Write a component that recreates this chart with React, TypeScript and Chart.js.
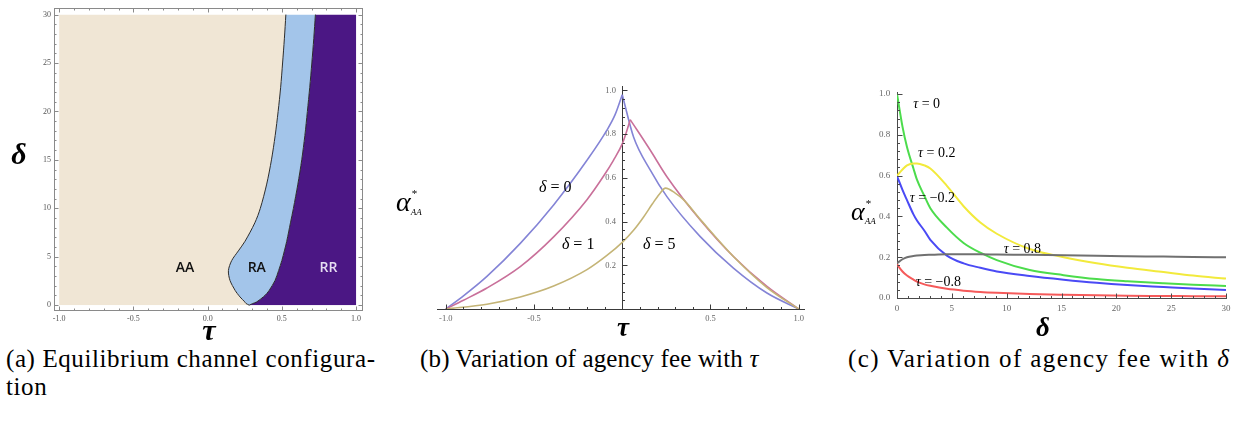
import React, { useEffect, useRef } from 'react';
import { Chart, registerables } from 'chart.js';

Chart.register(...registerables);

const SERIF = '"Liberation Serif", "DejaVu Serif", "Noto Serif", serif';
Chart.defaults.font.family = SERIF;

// ---------------- (a) Equilibrium channel configuration ----------------
const regionDelta = [0, 0.17, 0.34, 0.85, 1.2, 1.53, 2.54, 3.56, 4.6, 5.6, 6.6, 8.5, 10, 12.5, 15, 17.5, 20, 22.5, 25, 27.5, 30];
const aaRaBoundaryTau = [0.28, 0.259, 0.25, 0.218, 0.2, 0.185, 0.151, 0.14, 0.162, 0.207, 0.252, 0.318, 0.355, 0.398, 0.43, 0.455, 0.475, 0.492, 0.505, 0.517, 0.527];
const raRrBoundaryTau = [0.28, 0.305, 0.331, 0.375, 0.398, 0.415, 0.454, 0.478, 0.5, 0.517, 0.533, 0.558, 0.578, 0.608, 0.634, 0.655, 0.672, 0.688, 0.702, 0.715, 0.726];
const regionNames = ['AA', 'RA', 'RR'];
const regionLabelTau = [-0.152, 0.331, 0.814];
const regionLabelDelta = [3.4, 3.4, 3.4];
const tauTicksA = [-1, -0.5, 0, 0.5, 1];
const deltaTicksA = [0, 5, 10, 15, 20, 25, 30];

// ---------------- (b) Variation of agency fee with tau ----------------
const tauD0Left = [-1, -0.9, -0.767, -0.578, -0.389, -0.2, -0.087, -0.04, 0];
const alphaD0Left = [0, 0.06, 0.149, 0.3, 0.476, 0.68, 0.818, 0.89, 0.98];
const tauD0Right = [0, 0.064, 0.159, 0.253, 0.442, 0.63, 0.82, 1];
const alphaD0Right = [0.98, 0.787, 0.635, 0.514, 0.331, 0.187, 0.073, 0];
const tauD1Left = [-1, -0.9, -0.767, -0.578, -0.389, -0.2, -0.1, -0.05, 0, 0.02, 0.045];
const alphaD1Left = [0, 0.04, 0.096, 0.194, 0.33, 0.5, 0.615, 0.68, 0.755, 0.8, 0.866];
const tauD1Right = [0.045, 0.159, 0.253, 0.442, 0.63, 0.82, 1];
const alphaD1Right = [0.866, 0.726, 0.605, 0.407, 0.24, 0.103, 0];
const tauD5 = [-1, -0.767, -0.578, -0.389, -0.2, -0.087, 0, 0.064, 0.12, 0.17, 0.21, 0.245, 0.3, 0.347, 0.442, 0.63, 0.82, 1];
const alphaD5 = [0, 0.022, 0.055, 0.105, 0.18, 0.245, 0.305, 0.36, 0.42, 0.48, 0.525, 0.553, 0.53, 0.5, 0.41, 0.24, 0.098, 0];
const tauTicksB = [-1, -0.5, 0.5, 1];
const alphaTicksB = [0.2, 0.4, 0.6, 0.8, 1.0];

// ---------------- (c) Variation of agency fee with delta ----------------
const deltaGridC = [0, 0.5, 0.91, 1.5, 1.82, 2.5, 3.04, 4.55, 6.07, 7.6, 9.1, 12.1, 15.2, 18.2, 21, 24.3, 27, 30];
const alphaTau0 = [1.0, 0.84, 0.74, 0.635, 0.58, 0.5, 0.44, 0.345, 0.27, 0.222, 0.186, 0.137, 0.112, 0.093, 0.082, 0.072, 0.065, 0.059];
const alphaTau02 = [0.6, 0.63, 0.65, 0.66, 0.66, 0.65, 0.635, 0.55, 0.45, 0.37, 0.315, 0.24, 0.2, 0.17, 0.148, 0.127, 0.11, 0.095];
const alphaTauM02 = [0.598, 0.53, 0.48, 0.41, 0.38, 0.33, 0.285, 0.208, 0.17, 0.148, 0.13, 0.108, 0.09, 0.075, 0.064, 0.054, 0.046, 0.039];
const alphaTau08 = [0.17, 0.19, 0.2, 0.206, 0.208, 0.211, 0.212, 0.214, 0.214, 0.214, 0.213, 0.212, 0.21, 0.207, 0.205, 0.203, 0.201, 0.2];
const alphaTauM08 = [0.165, 0.13, 0.11, 0.09, 0.08, 0.067, 0.06, 0.045, 0.036, 0.03, 0.026, 0.02, 0.016, 0.013, 0.011, 0.01, 0.009, 0.008];
const deltaTicksC = [0, 5, 10, 15, 20, 25, 30];
const alphaTicksC = [0, 0.2, 0.4, 0.6, 0.8, 1.0];

// ---------------- captions ----------------
const captionA = ['(a) Equilibrium channel configura-', 'tion'];
const captionB = '(b) Variation of agency fee with ';
const captionC = '(c) Variation of agency fee with ';

// ---------------- helpers ----------------
const pts = (xs: number[], ys: number[]) => xs.map((x, i) => ({ x, y: ys[i] }));
const steps = (a: number, b: number, s: number) => {
  const n = Math.round((b - a) / s);
  return Array.from({ length: n + 1 }, (_, i) => +(a + i * s).toFixed(6));
};

type TickSpec = { axis: 'x' | 'y'; values: number[]; at: number | 'min' | 'max'; dir: number; len: number; color: string };
function ticksPlugin(specs: TickSpec[], frameColor?: string) {
  return {
    id: 'axisTicks',
    afterDatasetsDraw(chart: any) {
      const ctx = chart.ctx;
      const ca = chart.chartArea;
      ctx.save();
      if (frameColor) {
        ctx.strokeStyle = frameColor;
        ctx.lineWidth = 1;
        ctx.strokeRect(Math.round(ca.left) + 0.5, Math.round(ca.top) + 0.5, Math.round(ca.right - ca.left), Math.round(ca.bottom - ca.top));
      }
      for (const s of specs) {
        const along = chart.scales[s.axis];
        const other = chart.scales[s.axis === 'x' ? 'y' : 'x'];
        let base: number;
        if (s.at === 'min') base = s.axis === 'x' ? ca.bottom : ca.left;
        else if (s.at === 'max') base = s.axis === 'x' ? ca.top : ca.right;
        else base = other.getPixelForValue(s.at);
        base = Math.round(base) + 0.5;
        ctx.strokeStyle = s.color;
        ctx.lineWidth = 1;
        ctx.beginPath();
        for (const v of s.values) {
          const p = Math.round(along.getPixelForValue(v)) + 0.5;
          if (s.axis === 'x') { ctx.moveTo(p, base); ctx.lineTo(p, base + s.dir * s.len); }
          else { ctx.moveTo(base, p); ctx.lineTo(base + s.dir * s.len, p); }
        }
        ctx.stroke();
      }
      ctx.restore();
    },
  };
}

type Run = { t: string; font: string; dx?: number; dy?: number; advance?: boolean };
type Label = { runs: Run[]; x: number; y: number; data?: boolean; align?: 'left' | 'center'; color?: string };
function textPlugin(labels: Label[]) {
  return {
    id: 'texts',
    afterDraw(chart: any) {
      const ctx = chart.ctx;
      ctx.save();
      ctx.textBaseline = 'alphabetic';
      ctx.textAlign = 'left';
      for (const lb of labels) {
        let x = lb.x;
        let y = lb.y;
        if (lb.data) { x = chart.scales.x.getPixelForValue(lb.x); y = chart.scales.y.getPixelForValue(lb.y); }
        let w = 0;
        for (const r of lb.runs) { ctx.font = r.font; if (r.advance !== false) w += ctx.measureText(r.t).width; }
        let cx = lb.align === 'center' ? x - w / 2 : x;
        ctx.fillStyle = lb.color || '#000';
        for (const r of lb.runs) {
          ctx.font = r.font;
          ctx.fillText(r.t, cx + (r.dx || 0), y + (r.dy || 0));
          if (r.advance !== false) cx += ctx.measureText(r.t).width;
        }
      }
      ctx.restore();
    },
  };
}

const tickFont = (size: number) => ({ family: SERIF, size });
const hiddenGrid = { display: false, drawTicks: false };
const gap = '   ';

// ---------------- chart configs ----------------
function configA(): any {
  const minorX = steps(-1, 1, 0.1);
  const minorY = steps(0, 30, 1);
  const tc = '#8a8a8a';
  return {
    type: 'line',
    data: {
      datasets: [
        { indexAxis: 'y', data: pts(aaRaBoundaryTau, regionDelta), borderColor: '#2b2b2b', borderWidth: 1, pointRadius: 0, tension: 0.3, fill: { value: -1 }, backgroundColor: '#f0e6d5' },
        { indexAxis: 'y', data: pts(raRrBoundaryTau, regionDelta), borderColor: '#2b2b2b', borderWidth: 1, pointRadius: 0, tension: 0.3, fill: '-1', backgroundColor: '#a3c5ea' },
        { indexAxis: 'y', data: pts(raRrBoundaryTau, regionDelta), borderWidth: 0, borderColor: 'rgba(0,0,0,0)', pointRadius: 0, tension: 0.3, fill: { value: 1 }, backgroundColor: '#4b1784' },
      ],
    },
    options: {
      indexAxis: 'y',
      responsive: false,
      animation: false,
      events: [],
      layout: { padding: { left: 8, right: 10, top: 3, bottom: 8 } },
      plugins: { legend: { display: false }, tooltip: { enabled: false } },
      scales: {
        x: {
          type: 'linear', min: -1.035, max: 1.04, grid: hiddenGrid, border: { display: false },
          ticks: { font: tickFont(8), color: '#555', padding: 4, maxRotation: 0, callback: (v: any) => Number(v).toFixed(1) },
          afterBuildTicks: (s: any) => { s.ticks = tauTicksA.map((value) => ({ value })); },
          afterFit: (s: any) => { s.height = 27; },
        },
        y: {
          type: 'linear', min: -0.5, max: 30.7, grid: hiddenGrid, border: { display: false },
          ticks: { font: tickFont(8), color: '#555', padding: 3, callback: (v: any) => String(v) },
          afterBuildTicks: (s: any) => { s.ticks = deltaTicksA.map((value) => ({ value })); },
          afterFit: (s: any) => { s.width = 46; },
        },
      },
    },
    plugins: [
      ticksPlugin([
        { axis: 'x', values: minorX, at: 'min', dir: -1, len: 2, color: tc },
        { axis: 'x', values: tauTicksA, at: 'min', dir: -1, len: 4, color: tc },
        { axis: 'x', values: minorX, at: 'max', dir: 1, len: 2, color: tc },
        { axis: 'x', values: tauTicksA, at: 'max', dir: 1, len: 4, color: tc },
        { axis: 'y', values: minorY, at: 'min', dir: 1, len: 2, color: tc },
        { axis: 'y', values: deltaTicksA, at: 'min', dir: 1, len: 4, color: tc },
        { axis: 'y', values: minorY, at: 'max', dir: -1, len: 2, color: tc },
        { axis: 'y', values: deltaTicksA, at: 'max', dir: -1, len: 4, color: tc },
      ], '#8a8a8a'),
      textPlugin([
        ...regionNames.map((n, i) => ({
          runs: [{ t: n, font: '600 14px "Open Sans"' }], x: regionLabelTau[i], y: regionLabelDelta[i], data: true, align: 'center' as const,
          color: i === 2 ? '#e6def2' : '#111',
        })),
        { runs: [{ t: 'δ', font: `italic bold 30px ${SERIF}` }], x: 19, y: 164, align: 'center' },
        { runs: [{ t: 'τ', font: `italic bold 30px ${SERIF}` }], x: 209, y: 340, align: 'center' },
      ]),
    ],
  };
}

function lineDs(xs: number[], ys: number[], color: string, width: number) {
  return { data: pts(xs, ys), borderColor: color, borderWidth: width, pointRadius: 0, cubicInterpolationMode: 'monotone', fill: false };
}

function configB(): any {
  const [cBlue, cRed, cOlive] = ['#8484d6', '#c9709a', '#c4b476'];
  const ac = '#3a3a3a';
  const lf = `16px ${SERIF}`;
  const lfi = `italic 16px ${SERIF}`;
  return {
    type: 'line',
    data: {
      datasets: [
        lineDs(tauD5, alphaD5, cOlive, 1.6),
        lineDs(tauD1Left, alphaD1Left, cRed, 1.6),
        lineDs(tauD1Right, alphaD1Right, cRed, 1.6),
        lineDs(tauD0Left, alphaD0Left, cBlue, 1.6),
        lineDs(tauD0Right, alphaD0Right, cBlue, 1.6),
      ],
    },
    options: {
      responsive: false,
      animation: false,
      events: [],
      layout: { padding: { left: 57, right: 6, top: 16, bottom: 31 } },
      plugins: { legend: { display: false }, tooltip: { enabled: false } },
      scales: {
        x: {
          type: 'linear', min: -1.05, max: 1.03, position: { y: 0 }, grid: hiddenGrid, border: { display: true, color: ac, width: 1 },
          ticks: { font: tickFont(8.5), color: '#666', padding: 5, maxRotation: 0, callback: (v: any) => Number(v).toFixed(1) },
          afterBuildTicks: (s: any) => { s.ticks = tauTicksB.map((value) => ({ value })); },
        },
        y: {
          type: 'linear', min: 0, max: 1.02, position: { x: 0 }, grid: hiddenGrid, border: { display: true, color: ac, width: 1 },
          ticks: { font: tickFont(8.5), color: '#666', padding: 5, callback: (v: any) => Number(v).toFixed(1) + gap },
          afterBuildTicks: (s: any) => { s.ticks = alphaTicksB.map((value) => ({ value })); },
        },
      },
    },
    plugins: [
      ticksPlugin([
        { axis: 'x', values: steps(-1, 1, 0.1), at: 0, dir: -1, len: 2.5, color: ac },
        { axis: 'x', values: tauTicksB, at: 0, dir: -1, len: 5, color: ac },
        { axis: 'y', values: steps(0.04, 1, 0.04), at: 0, dir: 1, len: 2.5, color: ac },
        { axis: 'y', values: alphaTicksB, at: 0, dir: 1, len: 5, color: ac },
      ]),
      textPlugin([
        { runs: [{ t: 'δ', font: lfi }, { t: ' = 0', font: lf }], x: -0.38, y: 0.535, data: true, align: 'center' },
        { runs: [{ t: 'δ', font: lfi }, { t: ' = 1', font: lf }], x: -0.25, y: 0.275, data: true, align: 'center' },
        { runs: [{ t: 'δ', font: lfi }, { t: ' = 5', font: lf }], x: 0.21, y: 0.275, data: true, align: 'center' },
        {
          runs: [
            { t: 'α', font: `italic 28px ${SERIF}` },
            { t: '*', font: `11px ${SERIF}`, dx: 1, dy: -14, advance: false },
            { t: 'AA', font: `italic 9px ${SERIF}`, dy: 4 },
          ], x: 16, y: 141,
        },
        { runs: [{ t: 'τ', font: `italic bold 27px ${SERIF}` }], x: 243, y: 266, align: 'center' },
      ]),
    ],
  };
}

function configC(): any {
  const ac = '#4a4a4a';
  const f = `14px ${SERIF}`;
  const fi = `italic 14px ${SERIF}`;
  return {
    type: 'line',
    data: {
      datasets: [
        lineDs(deltaGridC, alphaTau08, '#707070', 2),
        lineDs(deltaGridC, alphaTau02, '#f2ea3c', 2),
        lineDs(deltaGridC, alphaTau0, '#4cdc4c', 2),
        lineDs(deltaGridC, alphaTauM02, '#4a4af5', 2),
        lineDs(deltaGridC, alphaTauM08, '#f55a5a', 2),
      ],
    },
    options: {
      responsive: false,
      animation: false,
      events: [],
      layout: { padding: { left: 57, right: 10, top: 22, bottom: 42 } },
      plugins: { legend: { display: false }, tooltip: { enabled: false } },
      scales: {
        x: {
          type: 'linear', min: 0, max: 30, position: { y: 0 }, grid: hiddenGrid, border: { display: true, color: ac, width: 1 },
          ticks: { font: tickFont(9), color: '#666', padding: 5, maxRotation: 0, callback: (v: any) => String(v) },
          afterBuildTicks: (s: any) => { s.ticks = deltaTicksC.map((value) => ({ value })); },
        },
        y: {
          type: 'linear', min: 0, max: 1.01, position: { x: 0 }, grid: hiddenGrid, border: { display: true, color: ac, width: 1 },
          ticks: { font: tickFont(9), color: '#666', padding: 8, callback: (v: any) => Number(v).toFixed(1) + gap },
          afterBuildTicks: (s: any) => { s.ticks = alphaTicksC.map((value) => ({ value })); },
        },
      },
    },
    plugins: [
      ticksPlugin([
        { axis: 'x', values: steps(0, 30, 1), at: 0, dir: -1, len: 2.5, color: ac },
        { axis: 'x', values: deltaTicksC, at: 0, dir: -1, len: 5, color: ac },
        { axis: 'y', values: steps(0, 1, 0.04), at: 0, dir: 1, len: 2.5, color: ac },
        { axis: 'y', values: alphaTicksC, at: 0, dir: 1, len: 5, color: ac },
      ]),
      textPlugin([
        { runs: [{ t: 'τ', font: fi }, { t: ' = 0', font: f }], x: 2.7, y: 0.933, data: true, align: 'center' },
        { runs: [{ t: 'τ', font: fi }, { t: ' = 0.2', font: f }], x: 3.62, y: 0.693, data: true, align: 'center' },
        { runs: [{ t: 'τ', font: fi }, { t: ' = −0.2', font: f }], x: 3.23, y: 0.472, data: true, align: 'center' },
        { runs: [{ t: 'τ', font: fi }, { t: ' = 0.8', font: f }], x: 11.43, y: 0.222, data: true, align: 'center' },
        { runs: [{ t: 'τ', font: fi }, { t: ' = −0.8', font: f }], x: 3.77, y: 0.059, data: true, align: 'center' },
        {
          runs: [
            { t: 'α', font: `italic 26px ${SERIF}` },
            { t: '*', font: `11px ${SERIF}`, dx: 1, dy: -13, advance: false },
            { t: 'AA', font: `italic 9px ${SERIF}`, dy: 4 },
          ], x: 11, y: 150,
        },
        { runs: [{ t: 'δ', font: `italic bold 27px ${SERIF}` }], x: 203, y: 266, align: 'center' },
      ]),
    ],
  };
}

function ChartBox(props: { left: number; top: number; width: number; height: number; build: () => any }) {
  const ref = useRef<HTMLCanvasElement>(null);
  useEffect(() => {
    const chart = new Chart(ref.current as HTMLCanvasElement, props.build());
    return () => chart.destroy();
  }, []);
  return (
    <canvas
      ref={ref}
      width={props.width}
      height={props.height}
      style={{ position: 'absolute', left: props.left, top: props.top, width: props.width, height: props.height }}
    />
  );
}

const captionStyle: React.CSSProperties = {
  position: 'absolute',
  top: 345,
  fontFamily: SERIF,
  fontSize: 25,
  lineHeight: '28px',
  letterSpacing: '0.6px',
  whiteSpace: 'nowrap',
  color: '#000',
};

export default function App() {
  return (
    <div style={{ position: 'absolute', left: 0, top: 0, width: 1236, height: 426, background: '#fff', overflow: 'hidden' }}>
      <ChartBox left={0} top={0} width={372} height={345} build={configA} />
      <ChartBox left={380} top={70} width={430} height={270} build={configB} />
      <ChartBox left={840} top={70} width={396} height={270} build={configC} />
      <div style={{ ...captionStyle, left: 6 }}>{captionA[0]}<br />{captionA[1]}</div>
      <div style={{ ...captionStyle, left: 420, letterSpacing: '0.15px' }}>{captionB}<i>τ</i></div>
      <div style={{ ...captionStyle, left: 848, letterSpacing: '1.4px' }}>{captionC}<i>δ</i></div>
    </div>
  );
}
